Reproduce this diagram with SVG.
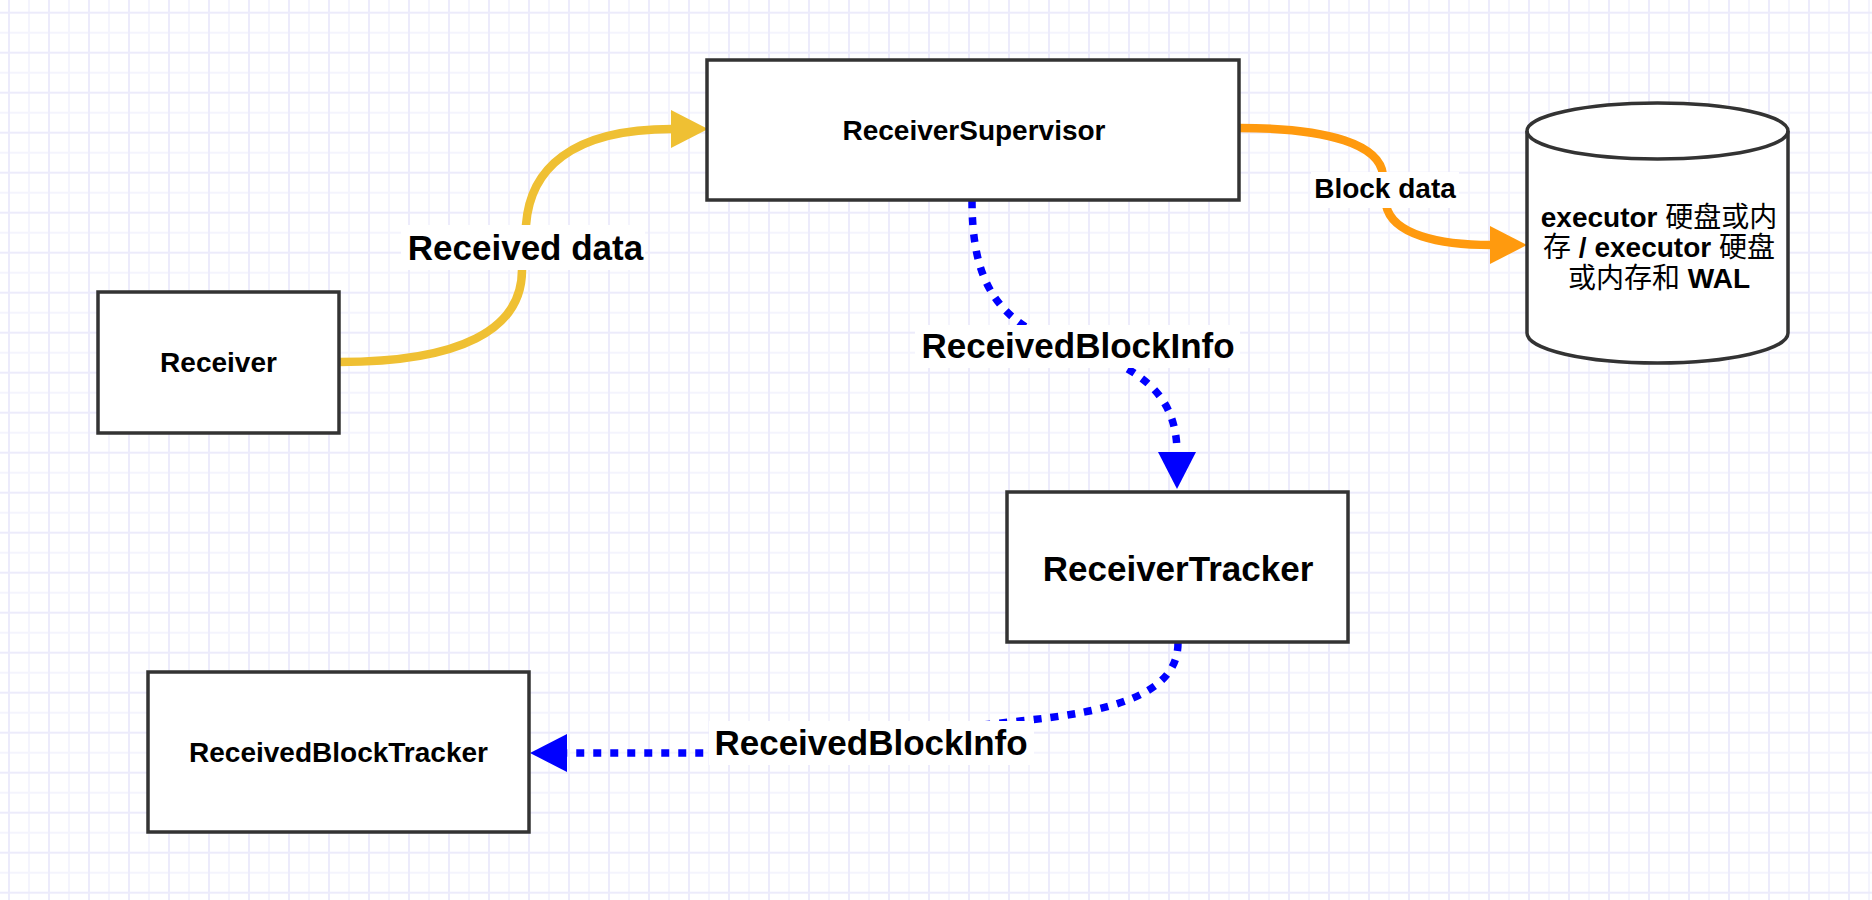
<svg xmlns="http://www.w3.org/2000/svg" width="1872" height="900" viewBox="0 0 1872 900">
  <defs>
    <pattern id="grid" width="40" height="40" patternUnits="userSpaceOnUse" x="8" y="11.7">
      <rect width="40" height="40" fill="#ffffff"/>
      <path d="M21,0 V40 M0,21 H40" stroke="#F4F4FD" stroke-width="2" fill="none"/>
      <path d="M1,0 V40 M0,1 H40" stroke="#ECEBFB" stroke-width="2" fill="none"/>
    </pattern>
    <marker id="arrYellow" markerUnits="userSpaceOnUse" markerWidth="37" markerHeight="38" viewBox="0 0 37 38" refX="1" refY="19" orient="auto">
      <path d="M0,0 L37,19 L0,38 Z" fill="#EFC033"/>
    </marker>
    <marker id="arrOrange" markerUnits="userSpaceOnUse" markerWidth="37" markerHeight="38" viewBox="0 0 37 38" refX="1" refY="19" orient="auto">
      <path d="M0,0 L37,19 L0,38 Z" fill="#FF9A0E"/>
    </marker>
    <marker id="arrBlue" markerUnits="userSpaceOnUse" markerWidth="37" markerHeight="38" viewBox="0 0 37 38" refX="1" refY="19" orient="auto">
      <path d="M0,0 L37,19 L0,38 Z" fill="#0000FF"/>
    </marker>
  </defs>
  <style>
    .box { fill: #ffffff; stroke: #333333; stroke-width: 3.5; }
    .txt { font-family: "Liberation Sans", Arial, "Noto Sans CJK SC", sans-serif; font-weight: bold; fill: #000000; text-anchor: middle; }
    .s28 { font-size: 28px; }
    .s35 { font-size: 35px; }
    .cjk { font-family: "Noto Sans CJK SC", sans-serif; font-weight: normal; }
    .lblbg { fill: #ffffff; }
    .edge { fill: none; stroke-width: 8.5; }
    .yellow { stroke: #EFC033; }
    .orange { stroke: #FF9A0E; }
    .blue { stroke: #0000FF; stroke-width: 7.5; stroke-dasharray: 8 9; }
  </style>

  <rect x="0" y="0" width="1872" height="900" fill="url(#grid)"/>

  <g id="connectors">
    <path class="edge yellow" d="M339,362 C 460,362 522,330 522,270 L 526,225 C 530,170 570,129 672,129" marker-end="url(#arrYellow)"/>
    <path class="edge orange" d="M1239,128 C 1330,128 1380,145 1383,175 L 1386,205 C 1392,235 1440,245 1491,245" marker-end="url(#arrOrange)"/>
    <path class="edge blue" d="M972,200 C 972,270 990,310 1040,335 C 1120,360 1177,380 1177,453" marker-end="url(#arrBlue)"/>
    <path class="edge blue" d="M1178,643 C 1178,695 1110,712 1020,721 C 900,733 800,753 700,753 L 566,753" marker-end="url(#arrBlue)"/>

    <g id="label-received-data">
      <rect class="lblbg" x="401" y="225" width="244" height="45"/>
      <text class="txt s35" x="525.5" y="259.5">Received data</text>
    </g>
    <g id="label-block-data">
      <rect class="lblbg" x="1311" y="172" width="148" height="36"/>
      <text class="txt s28" x="1385" y="198">Block data</text>
    </g>
    <g id="label-rbi-1">
      <rect class="lblbg" x="915" y="325" width="325" height="43"/>
      <text class="txt s35" x="1078" y="357.5">ReceivedBlockInfo</text>
    </g>
    <g id="label-rbi-2">
      <rect class="lblbg" x="709" y="721" width="325" height="44"/>
      <text class="txt s35" x="871" y="754.5">ReceivedBlockInfo</text>
    </g>
  </g>

  <g id="node-receiver">
    <rect class="box" x="98" y="292" width="241" height="141"/>
    <text class="txt s28" x="218.5" y="372">Receiver</text>
  </g>

  <g id="node-receiver-supervisor">
    <rect class="box" x="707" y="60" width="532" height="140"/>
    <text class="txt s28" x="974" y="140">ReceiverSupervisor</text>
  </g>

  <g id="node-storage">
    <path class="box" d="M1527,131 A130.5,28 0 0 1 1788,131 L1788,333 A130.5,30 0 0 1 1527,333 Z"/>
    <path d="M1527,131 A130.5,28 0 0 0 1788,131" fill="none" stroke="#333333" stroke-width="3.5"/>
    <text class="txt s28" x="1659" y="227">executor <tspan class="cjk">硬盘或内</tspan></text>
    <text class="txt s28" x="1659" y="257"><tspan class="cjk">存</tspan> / executor <tspan class="cjk">硬盘</tspan></text>
    <text class="txt s28" x="1659" y="288"><tspan class="cjk">或内存和</tspan> WAL</text>
  </g>

  <g id="node-receiver-tracker">
    <rect class="box" x="1007" y="492" width="341" height="150"/>
    <text class="txt s35" x="1178" y="580.5">ReceiverTracker</text>
  </g>

  <g id="node-received-block-tracker">
    <rect class="box" x="148" y="672" width="381" height="160"/>
    <text class="txt s28" x="338.5" y="762">ReceivedBlockTracker</text>
  </g>
</svg>
